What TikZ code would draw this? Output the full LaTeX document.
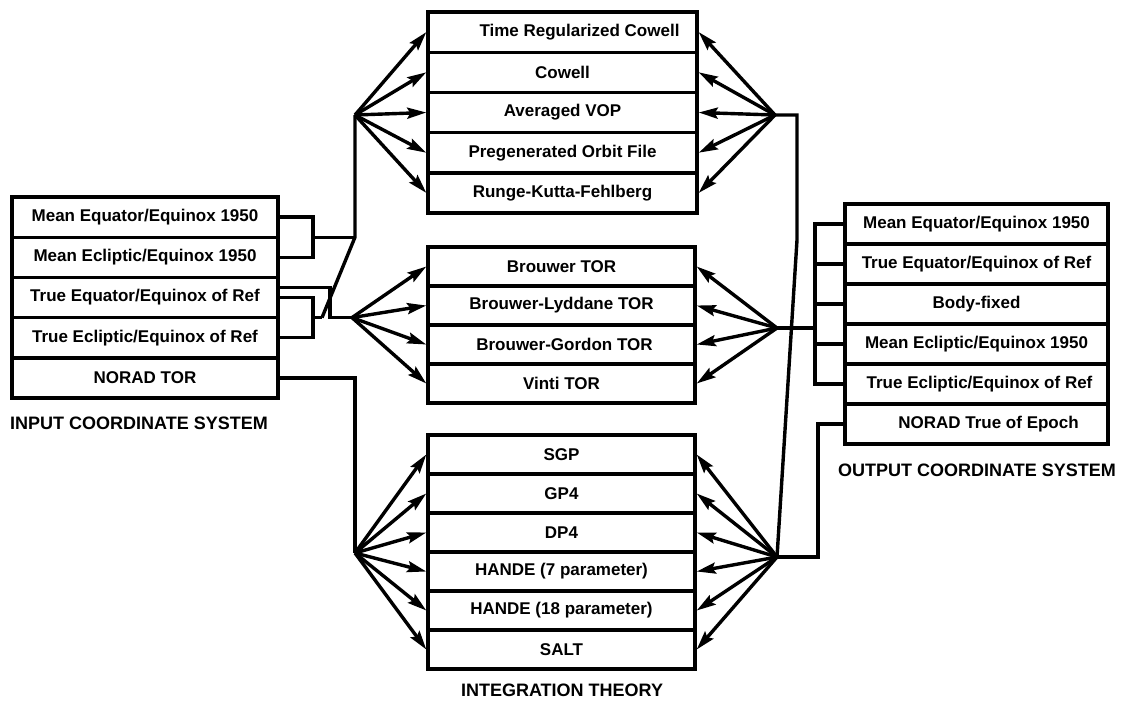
\documentclass[tikz,border=0pt]{standalone}
\usepackage{fontspec}
\setmainfont{Liberation Sans}
\usetikzlibrary{arrows.meta}
\tikzset{
  cell/.style={draw, line width=3.4pt, inner sep=0pt, fill=white,
    font=\fontsize{17}{20}\selectfont\bfseries},
  inrow/.style={cell, minimum width=266pt, minimum height=40.2pt},
  toprow/.style={cell, minimum width=269pt, minimum height=40.2pt},
  midrow/.style={cell, minimum width=267pt, minimum height=39pt},
  botrow/.style={cell, minimum width=267pt, minimum height=39pt},
  outrow/.style={cell, minimum width=263pt, minimum height=40pt},
  wire/.style={line width=3.4pt},
  arr/.style={line width=3.4pt, -{Stealth[length=19pt,width=11pt,inset=3pt]}},
  caption/.style={font=\fontsize{18}{21}\selectfont\bfseries, inner sep=0pt}
}
\begin{document}
\begin{tikzpicture}[x=1pt,y=-1pt]
\useasboundingbox (0,0) rectangle (1129,710);

% ---- input coordinate system ----
\node[inrow] (i1) at (145,217.1) {Mean Equator/Equinox 1950};
\node[inrow] (i2) at (145,257.3) {Mean Ecliptic/Equinox 1950};
\node[inrow] (i3) at (145,297.5) {True Equator/Equinox of Ref};
\node[inrow] (i4) at (145,337.7) {True Ecliptic/Equinox of Ref};
\node[inrow] (i5) at (145,377.9) {NORAD TOR};
\node[caption, anchor=west] (incap) at (10,423) {INPUT COORDINATE SYSTEM};

% ---- numerical integration group ----
\node[toprow] (t1) at (562.5,32.1) {\hspace*{34pt}Time Regularized Cowell};
\node[toprow] (t2) at (562.5,72.3) {Cowell};
\node[toprow] (t3) at (562.5,112.5) {Averaged VOP};
\node[toprow] (t4) at (562.5,152.7) {Pregenerated Orbit File};
\node[toprow] (t5) at (562.5,192.9) {Runge-Kutta-Fehlberg};

% ---- analytic theories ----
\node[midrow] (m1) at (561.5,266.5) {Brouwer TOR};
\node[midrow] (m2) at (561.5,305.5) {Brouwer-Lyddane TOR};
\node[midrow] (m3) at (561.5,344.5) {\hspace*{6pt}Brouwer-Gordon TOR};
\node[midrow] (m4) at (561.5,383.5) {Vinti TOR};

% ---- general perturbation models ----
\node[botrow] (b1) at (561.5,454.5) {SGP};
\node[botrow] (b2) at (561.5,493.5) {GP4};
\node[botrow] (b3) at (561.5,532.5) {DP4};
\node[botrow] (b4) at (561.5,571.5) {HANDE (7 parameter)};
\node[botrow] (b5) at (561.5,610.5) {HANDE (18 parameter)};
\node[botrow] (b6) at (561.5,649.5) {SALT};
\node[caption] (intcap) at (562,690) {INTEGRATION THEORY};

% ---- output coordinate system ----
\node[outrow] (o1) at (976.5,224) {Mean Equator/Equinox 1950};
\node[outrow] (o2) at (976.5,264) {True Equator/Equinox of Ref};
\node[outrow] (o3) at (976.5,304) {Body-fixed};
\node[outrow] (o4) at (976.5,344) {Mean Ecliptic/Equinox 1950};
\node[outrow] (o5) at (976.5,384) {\hspace*{6pt}True Ecliptic/Equinox of Ref};
\node[outrow] (o6) at (976.5,424) {\hspace*{24pt}NORAD True of Epoch};
\node[caption] (outcap) at (977,470) {OUTPUT COORDINATE SYSTEM};

% ---- junction points ----
\coordinate (ftl) at (355,115);
\coordinate (fml) at (352,317.6);
\coordinate (fbl) at (355,553);
\coordinate (ftr) at (775,115);
\coordinate (fmr) at (777,328);
\coordinate (fbr) at (777,557);
\coordinate (j1) at (355,237.2);
\coordinate (k1) at (322,317.6);
\coordinate (br1) at (313,237.2);
\coordinate (br2) at (313,317.6);
\coordinate (bus) at (815,0);

% ---- input wiring ----
\draw[wire] (i1.east) -| (br1) |- (i2.east);
\draw[wire] (br1) -- (j1);
\draw[wire] (ftl) -- (j1) -- (k1);
\draw[wire] (i3.east) -| (br2) |- (i4.east);
\draw[wire] (br2) -- (k1);
\draw[wire] ([yshift=10pt]i3.east) -| (330,317.6) -- (fml);
\draw[wire] (i5.east) -| (fbl);

% ---- fans into the models ----
\foreach \n in {t1,t2,t3,t4,t5} {
  \draw[arr] (ftl) -- (\n.west);
  \draw[arr] (ftr) -- (\n.east);
}
\foreach \n in {m1,m2,m3,m4} {
  \draw[arr] (fml) -- (\n.west);
  \draw[arr] (fmr) -- (\n.east);
}
\foreach \n in {b1,b2,b3,b4,b5,b6} {
  \draw[arr] (fbl) -- (\n.west);
  \draw[arr] (fbr) -- (\n.east);
}

% ---- output wiring ----
\draw[wire] (ftr) -- (797,115) -- (797,240) -- (fbr);
\draw[wire] (fmr) -- (bus |- fmr);
\draw[wire] (o1.west) -| (bus |- o5.west) -- (o5.west);
\foreach \n in {o2,o3,o4} {
  \draw[wire] (bus |- \n.west) -- (\n.west);
}
\draw[wire] (o6.west) -| (818,557) -- (fbr);
\end{tikzpicture}
\end{document}
